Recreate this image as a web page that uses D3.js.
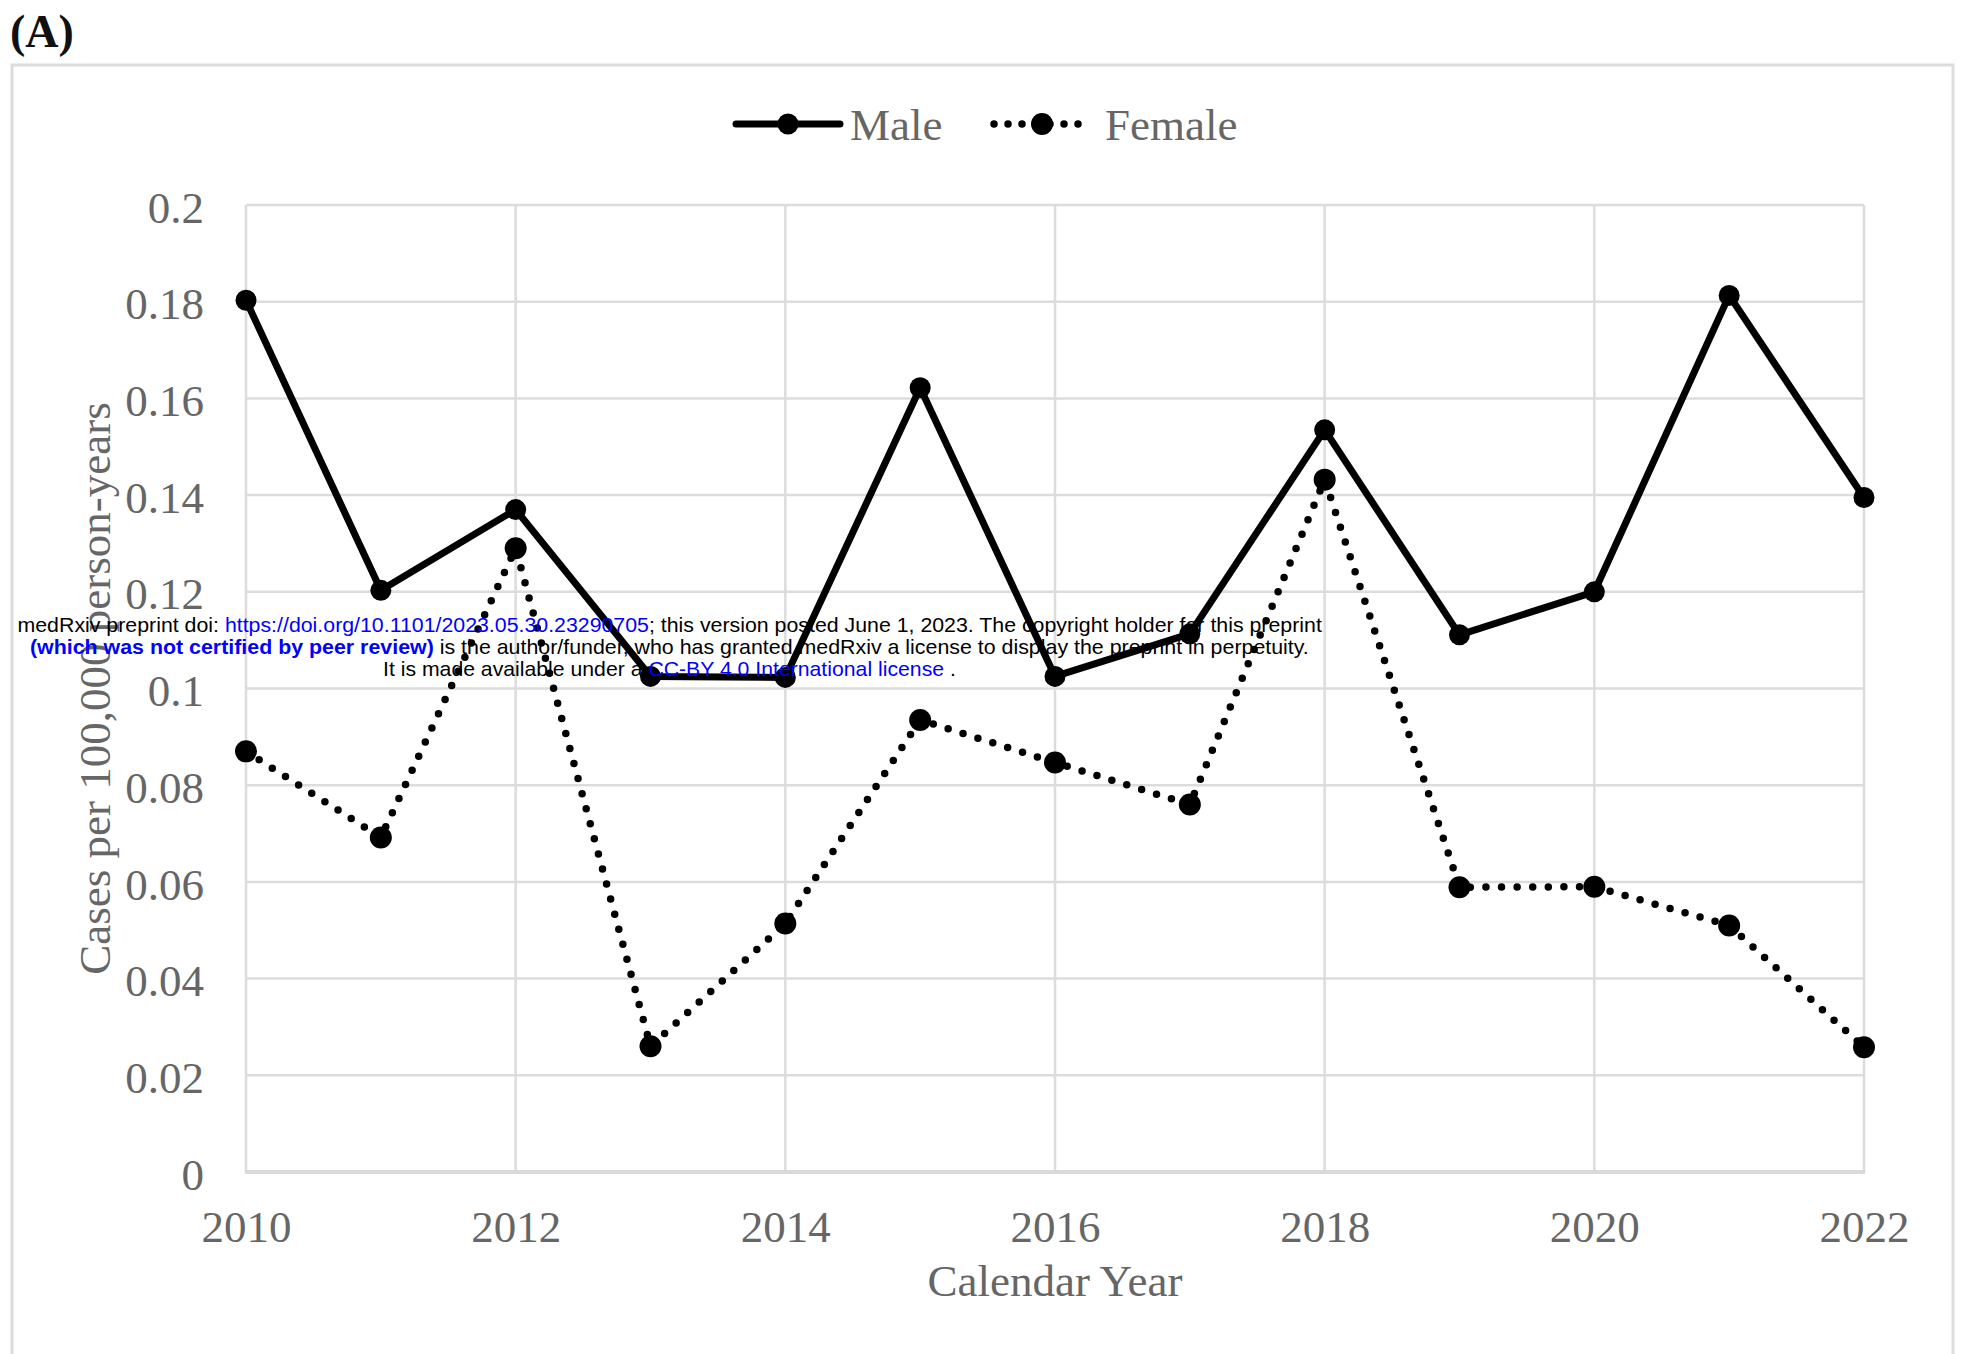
<!DOCTYPE html>
<html>
<head>
<meta charset="utf-8">
<script src="https://cdn.jsdelivr.net/npm/d3@7"></script>
<style>
  body { margin: 0; background: #fff; }
  svg { display: block; }
</style>
</head>
<body>
<div id="graphique"></div>
<script>
// Donnees
var annees = [2010, 2011, 2012, 2013, 2014, 2015, 2016, 2017, 2018, 2019, 2020, 2021, 2022];
var hommes = [0.1803, 0.1203, 0.137, 0.1025, 0.1023, 0.1622, 0.1025, 0.1113, 0.1535, 0.1111, 0.1200, 0.1813, 0.1395];
var femmes = [0.0870, 0.0692, 0.1290, 0.0260, 0.0514, 0.0935, 0.0847, 0.0760, 0.1432, 0.0589, 0.0590, 0.0510, 0.0258];
var ticksX = [2010, 2012, 2014, 2016, 2018, 2020, 2022];
var ticksY = [0, 0.02, 0.04, 0.06, 0.08, 0.1, 0.12, 0.14, 0.16, 0.18, 0.2];
var series = ["Male", "Female"];

var LARGEUR = 1963, HAUTEUR = 1354;
var POLICE = "'Liberation Serif', 'Times New Roman', serif";
var GRIS_TEXTE = "#666666";
var GRIS_GRILLE = "#dcdcdc";

var svg = d3.select("#graphique").append("svg")
    .attr("width", LARGEUR)
    .attr("height", HAUTEUR);

// Cadre exterieur et etiquette (A)
svg.append("rect")
    .attr("x", 12).attr("y", 65)
    .attr("width", 1941).attr("height", 1400)
    .attr("fill", "none")
    .attr("stroke", GRIS_GRILLE)
    .attr("stroke-width", 3);

svg.append("text")
    .attr("x", 10).attr("y", 47)
    .attr("font-family", POLICE)
    .attr("font-weight", "bold")
    .attr("font-size", 46)
    .attr("fill", "#111")
    .text("(A)");

// Echelles
var x = d3.scaleLinear().domain([2010, 2022]).range([246, 1864]);
var y = d3.scaleLinear().domain([0, 0.2]).range([1172, 205]);

// Grille horizontale
svg.append("g").selectAll("line")
    .data(ticksY.filter(function(d) { return d > 0; }))
    .enter().append("line")
    .attr("x1", x(2010)).attr("x2", x(2022))
    .attr("y1", function(d) { return y(d); })
    .attr("y2", function(d) { return y(d); })
    .attr("stroke", GRIS_GRILLE)
    .attr("stroke-width", 2.5);

// Grille verticale
svg.append("g").selectAll("line")
    .data(ticksX)
    .enter().append("line")
    .attr("x1", function(d) { return x(d); })
    .attr("x2", function(d) { return x(d); })
    .attr("y1", y(0.2)).attr("y2", y(0))
    .attr("stroke", GRIS_GRILLE)
    .attr("stroke-width", 2.5);

// Ligne de base
svg.append("line")
    .attr("x1", x(2010) - 1).attr("x2", x(2022) + 1)
    .attr("y1", y(0)).attr("y2", y(0))
    .attr("stroke", "#d9d9d9")
    .attr("stroke-width", 4);

// Axe Y
var axeY = svg.append("g")
    .attr("transform", "translate(" + x(2010) + ",0)")
    .call(d3.axisLeft(y).tickValues(ticksY).tickSize(0).tickPadding(42)
      .tickFormat(function(d) { return String(+d.toFixed(2)); }));
axeY.select(".domain").remove();
axeY.selectAll("text")
    .attr("font-family", POLICE)
    .attr("font-size", 45)
    .attr("fill", GRIS_TEXTE)
    .attr("dy", "0.38em");

// Axe X
var axeX = svg.append("g")
    .attr("transform", "translate(0," + y(0) + ")")
    .call(d3.axisBottom(x).tickValues(ticksX).tickSize(0).tickPadding(0)
      .tickFormat(d3.format("d")));
axeX.select(".domain").remove();
axeX.selectAll("text")
    .attr("font-family", POLICE)
    .attr("font-size", 45)
    .attr("fill", GRIS_TEXTE)
    .attr("y", 70)
    .attr("dy", 0);

// Titres des axes
svg.append("text")
    .attr("x", 1055).attr("y", 1296)
    .attr("text-anchor", "middle")
    .attr("font-family", POLICE)
    .attr("font-size", 45)
    .attr("fill", GRIS_TEXTE)
    .text("Calendar Year");

svg.append("text")
    .attr("transform", "translate(110," + ((y(0) + y(0.2)) / 2) + ") rotate(-90)")
    .attr("text-anchor", "middle")
    .attr("font-family", POLICE)
    .attr("font-size", 45)
    .attr("fill", GRIS_TEXTE)
    .text("Cases per 100,000 person-years");

// Series
var ligne = d3.line()
    .x(function(d, i) { return x(annees[i]); })
    .y(function(d) { return y(d); });

svg.append("path")
    .datum(femmes)
    .attr("d", ligne)
    .attr("fill", "none")
    .attr("stroke", "#000")
    .attr("stroke-width", 7.5)
    .attr("stroke-linecap", "round")
    .attr("stroke-dasharray", "0,15.6");

svg.append("g").selectAll("circle")
    .data(femmes)
    .enter().append("circle")
    .attr("cx", function(d, i) { return x(annees[i]); })
    .attr("cy", function(d) { return y(d); })
    .attr("r", 11)
    .attr("fill", "#000");

svg.append("path")
    .datum(hommes)
    .attr("d", ligne)
    .attr("fill", "none")
    .attr("stroke", "#000")
    .attr("stroke-width", 7)
    .attr("stroke-linejoin", "round");

svg.append("g").selectAll("circle")
    .data(hommes)
    .enter().append("circle")
    .attr("cx", function(d, i) { return x(annees[i]); })
    .attr("cy", function(d) { return y(d); })
    .attr("r", 10.5)
    .attr("fill", "#000");

// Legende
var legende = svg.append("g");
var legY = 124;
legende.append("line")
    .attr("x1", 736).attr("x2", 840)
    .attr("y1", legY).attr("y2", legY)
    .attr("stroke", "#000").attr("stroke-width", 7)
    .attr("stroke-linecap", "round");
legende.append("circle").attr("cx", 788).attr("cy", legY).attr("r", 10.5).attr("fill", "#000");
legende.append("text")
    .attr("x", 850).attr("y", 140)
    .attr("font-family", POLICE).attr("font-size", 45).attr("fill", GRIS_TEXTE)
    .text(series[0]);

legende.append("line")
    .attr("x1", 994).attr("x2", 1086)
    .attr("y1", legY).attr("y2", legY)
    .attr("stroke", "#000").attr("stroke-width", 7.5)
    .attr("stroke-linecap", "round")
    .attr("stroke-dasharray", "0,14");
legende.append("circle").attr("cx", 1042).attr("cy", legY).attr("r", 11).attr("fill", "#000");
legende.append("text")
    .attr("x", 1105).attr("y", 140)
    .attr("font-family", POLICE).attr("font-size", 45).attr("fill", GRIS_TEXTE)
    .text(series[1]);

// Bandeau medRxiv par-dessus la figure
var lignesBandeau = [
  {y: 632, gauche: 17.5, droite: 1323, morceaux: [
    {t: "medRxiv preprint doi: ", c: "#000"},
    {t: "https://doi.org/10.1101/2023.05.30.23290705", c: "#0000ff"},
    {t: "; this version posted June 1, 2023. The copyright holder for this preprint", c: "#000"}]},
  {y: 654, gauche: 30, droite: 1309, morceaux: [
    {t: "(which was not certified by peer review)", c: "#0000ff", gras: true},
    {t: " is the author/funder, who has granted medRxiv a license to display the preprint in perpetuity.", c: "#000"}]},
  {y: 676, gauche: 383, droite: 956, morceaux: [
    {t: "It is made available under a ", c: "#000"},
    {t: "CC-BY 4.0 International license", c: "#0000ff"},
    {t: " .", c: "#000"}]}
];

lignesBandeau.forEach(function(l) {
  var g = svg.append("g");
  var txt = g.append("text")
      .attr("x", 0).attr("y", l.y)
      .attr("font-family", "'Liberation Sans', Arial, sans-serif")
      .attr("font-size", 20.5)
      .style("white-space", "pre");
  l.morceaux.forEach(function(m) {
    txt.append("tspan")
        .attr("fill", m.c)
        .attr("font-weight", m.gras ? "bold" : "normal")
        .text(m.t);
  });
  // ajuster la largeur pour coller a la figure
  var largeur = txt.node().getComputedTextLength();
  var sx = (l.droite - l.gauche) / largeur;
  g.attr("transform", "translate(" + l.gauche + ",0) scale(" + sx + ",1)");
});
</script>
</body>
</html>
